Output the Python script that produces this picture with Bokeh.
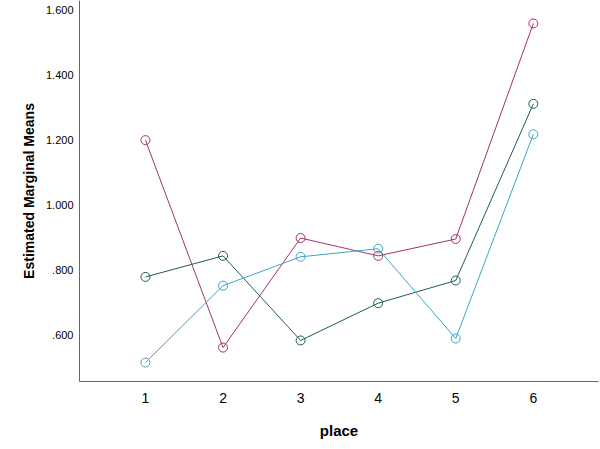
from bokeh.plotting import figure
from bokeh.models import FixedTicker, Range1d, CustomJSTickFormatter
from bokeh.embed import file_html
from bokeh.resources import INLINE

places = [1, 2, 3, 4, 5, 6]
series_purple = [1.200, 0.560, 0.898, 0.843, 0.895, 1.560]
series_green = [0.778, 0.843, 0.582, 0.697, 0.767, 1.312]
series_blue = [0.514, 0.751, 0.840, 0.865, 0.588, 1.218]
y_ticks = [0.6, 0.8, 1.0, 1.2, 1.4, 1.6]

colors = ["#a0336e", "#1e5c58", "#3ba6c6"]

p = figure(width=600, height=449, output_backend="svg", toolbar_location=None,
           x_range=Range1d(0.15, 6.84), y_range=Range1d(0.4554, 1.6308),
           min_border_left=79, min_border_right=2, min_border_top=0, min_border_bottom=68)

for ys, c in zip([series_purple, series_green, series_blue], colors):
    p.line(places, ys, line_color=c, line_width=1)
    p.scatter(places, ys, marker="circle", size=9, fill_color=None, line_color=c, line_width=1)

p.xgrid.visible = False
p.ygrid.visible = False
p.outline_line_color = None
p.background_fill_color = "white"
p.border_fill_color = "white"

p.xaxis.ticker = FixedTicker(ticks=places)
p.yaxis.ticker = FixedTicker(ticks=y_ticks)
p.yaxis.formatter = CustomJSTickFormatter(code="var s = tick.toFixed(3); return s.startsWith('0') ? s.substring(1) : s;")

for ax in [p.xaxis[0], p.yaxis[0]]:
    ax.axis_line_color = "#666666"
    ax.axis_line_width = 1
    ax.major_tick_line_color = None
    ax.minor_tick_line_color = None
    ax.major_tick_out = 0
    ax.major_tick_in = 0
    ax.minor_tick_out = 0
    ax.minor_tick_in = 0
    ax.major_label_text_font = "Liberation Sans"
    ax.major_label_text_color = "#000000"
    ax.axis_label_text_font = "Liberation Sans"
    ax.axis_label_text_font_style = "bold"
    ax.axis_label_text_color = "#000000"

p.yaxis.major_label_text_font_size = "11px"
p.yaxis.major_label_standoff = 6
p.yaxis.axis_label = "Estimated Marginal Means"
p.yaxis.axis_label_text_font_size = "14px"
p.yaxis.axis_label_standoff = 6

p.xaxis.major_label_text_font_size = "14px"
p.xaxis.major_label_standoff = 11
p.xaxis.axis_label = "place"
p.xaxis.axis_label_text_font_size = "15px"
p.xaxis.axis_label_standoff = 16

open("out.html", "w").write(file_html(p, INLINE))
